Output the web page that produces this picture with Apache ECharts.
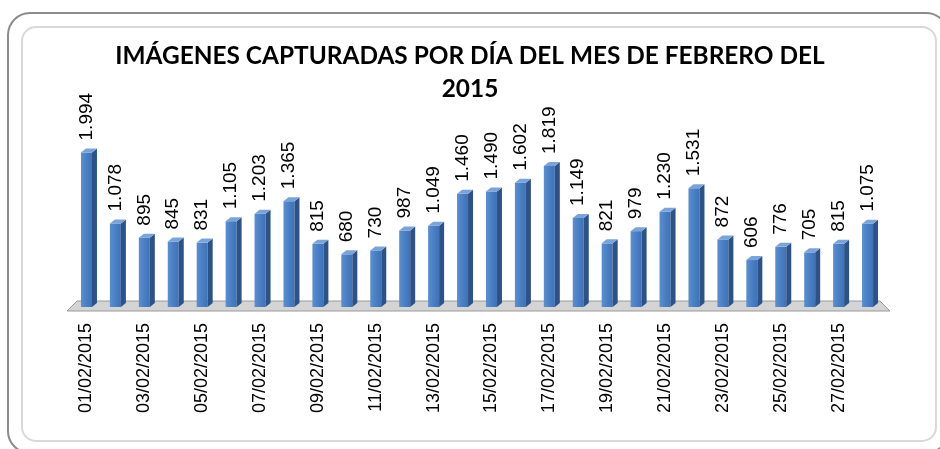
<!DOCTYPE html>
<html>
<head>
<meta charset="utf-8">
<script src="https://cdn.jsdelivr.net/npm/echarts@6/dist/echarts.min.js"></script>
<style>
  html, body { margin: 0; padding: 0; background: #fff; }
  #chart { width: 940px; height: 449px; }
</style>
</head>
<body>
<div id="chart"></div>
<script>
// datos
const dias = ['01/02/2015', '02/02/2015', '03/02/2015', '04/02/2015', '05/02/2015', '06/02/2015', '07/02/2015',
  '08/02/2015', '09/02/2015', '10/02/2015', '11/02/2015', '12/02/2015', '13/02/2015', '14/02/2015',
  '15/02/2015', '16/02/2015', '17/02/2015', '18/02/2015', '19/02/2015', '20/02/2015', '21/02/2015',
  '22/02/2015', '23/02/2015', '24/02/2015', '25/02/2015', '26/02/2015', '27/02/2015', '28/02/2015']
const imagenes = [1994, 1078, 895, 845, 831, 1105, 1203, 1365, 815, 680, 730, 987, 1049, 1460,
  1490, 1602, 1819, 1149, 821, 979, 1230, 1531, 872, 606, 776, 705, 815, 1075]

const titulo = 'IMÁGENES CAPTURADAS POR DÍA DEL MES DE FEBRERO DEL\n2015'

function miles(v) {
  if (v < 1000) return String(v)
  return Math.floor(v / 1000) + '.' + String(v % 1000).padStart(3, '0')
}

const chart = echarts.init(document.getElementById('chart'))

chart.setOption({
  animation: false,
  title: {
    text: titulo,
    left: 'center',
    top: 35,
    textStyle: {
      fontFamily: 'Lato',
      fontWeight: 'bold',
      fontSize: 24.4,
      lineHeight: 33,
      color: '#000'
    }
  },
  graphic: [
    {
      type: 'rect', z: -10,
      shape: { x: 8, y: 13, width: 940, height: 440, r: 22 },
      style: { fill: 'none', stroke: '#8c8c8c', lineWidth: 2 }
    },
    {
      type: 'rect', z: -10,
      shape: { x: 22, y: 27, width: 914, height: 414, r: 14 },
      style: { fill: 'none', stroke: '#d9d9d9', lineWidth: 2 }
    },
    {
      // piso gris 3D
      type: 'polygon', z: 1,
      shape: { points: [[67, 311], [890, 311], [880, 301], [77, 301]] },
      style: { fill: '#d4d4d4', stroke: '#9a9a9a', lineWidth: 1 }
    }
  ],
  grid: {
    top: 152,
    left: 72,
    right: 58,
    bottom: 142,
    containLabel: false
  },
  xAxis: {
    type: 'category',
    data: dias,
    axisLine: { show: false },
    axisTick: { show: false },
    axisLabel: {
      interval: 1,
      rotate: 90,
      margin: 16,
      fontFamily: 'Liberation Sans',
      fontSize: 18,
      color: '#000'
    }
  },
  yAxis: {
    type: 'value',
    min: 0,
    max: 2000,
    show: false
  },
  series: [
    {
      name: 'Imágenes',
      type: 'bar',
      data: imagenes,
      barWidth: 11,
      z: 3,
      itemStyle: {
        color: new echarts.graphic.LinearGradient(0, 0, 1, 0, [
          { offset: 0, color: '#5b8fd1' },
          { offset: 0.5, color: '#4a7fc4' },
          { offset: 1, color: '#3f72b6' }
        ])
      },
      label: {
        show: true,
        position: 'top',
        rotate: 90,
        align: 'left',
        verticalAlign: 'middle',
        distance: 12,
        fontFamily: 'Liberation Sans',
        fontSize: 19,
        color: '#000',
        formatter: p => miles(p.value)
      }
    },
    {
      name: 'caras',
      type: 'custom',
      z: 4,
      data: imagenes.map((v, i) => [i, v]),
      renderItem: function (params, api) {
        const top = api.coord([api.value(0), api.value(1)])
        const base = api.coord([api.value(0), 0])
        const r = top[0] + 5.5
        const l = top[0] - 5.5
        const dx = 5, dy = 4
        return {
          type: 'group',
          children: [
            {
              type: 'polygon',
              shape: { points: [[r, top[1]], [r + dx, top[1] - dy], [r + dx, base[1] - dy], [r, base[1]]] },
              style: { fill: '#2c5288' }
            },
            {
              type: 'polygon',
              shape: { points: [[l, top[1]], [l + dx, top[1] - dy], [r + dx, top[1] - dy], [r, top[1]]] },
              style: { fill: '#7aa3da' }
            }
          ]
        }
      }
    }
  ]
})
</script>
</body>
</html>
